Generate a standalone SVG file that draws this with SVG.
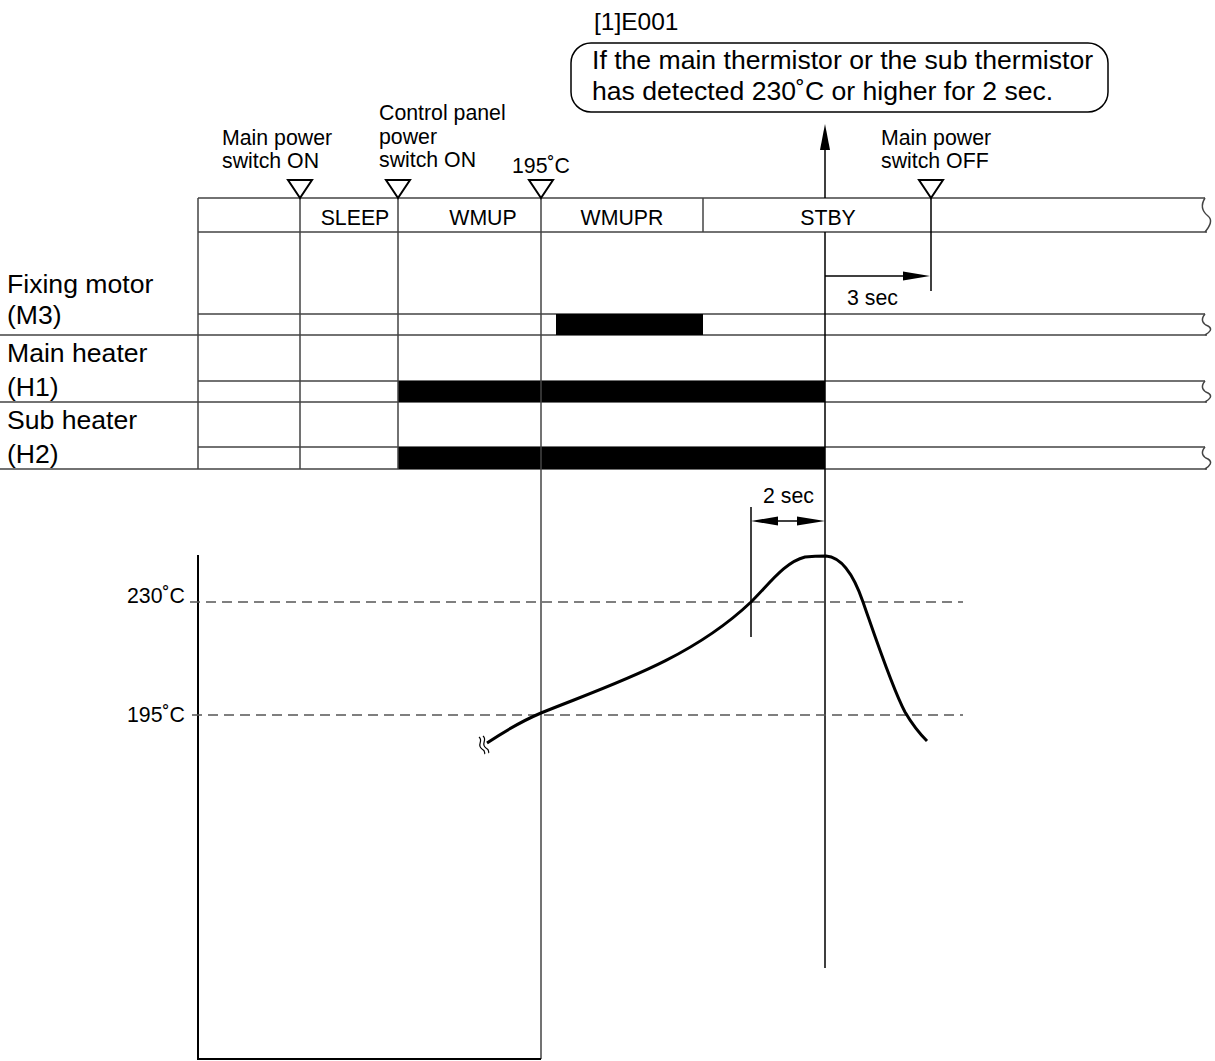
<svg xmlns="http://www.w3.org/2000/svg" width="1215" height="1061" viewBox="0 0 1215 1061">
<style>
text{font-family:"Liberation Sans",Arial,sans-serif;fill:#000}
.s{font-size:21.3px}
.l{font-size:26.6px}
.g{stroke:#444;stroke-width:1.5;fill:none}
.k{stroke:#000;stroke-width:1.5;fill:none}
.tri{fill:#fff;stroke:#000;stroke-width:2}
.bar{fill:#000}
.dash{stroke:#555;stroke-width:1.5;stroke-dasharray:10 6;fill:none}
.ah{fill:#000}
</style>
<rect width="1215" height="1061" fill="#fff"/>

<g id="callout">
<text x="594" y="30" style="font-size:24.5px">[1]E001</text>
<rect x="571" y="43" width="537" height="69" rx="20" ry="20" fill="#fff" stroke="#000" stroke-width="1.5"/>
<text class="l" x="592" y="69">If the main thermistor or the sub thermistor</text>
<text class="l" x="592" y="100">has detected 230˚C or higher for 2 sec.</text>
</g>

<g id="event-labels">
<text class="s" x="222" y="145">Main power</text>
<text class="s" x="222" y="168">switch ON</text>
<text class="s" x="379" y="120">Control panel</text>
<text class="s" x="379" y="144">power</text>
<text class="s" x="379" y="167">switch ON</text>
<text class="s" x="512" y="173">195˚C</text>
<text class="s" x="881" y="145">Main power</text>
<text class="s" x="881" y="168">switch OFF</text>
</g>

<g id="state-band">
<path class="g" d="M198,198 H1205 M198,232 H1207 M198,198 V232"/>
<path class="g" d="M1205,198 C1200,206 1203,212 1208,216 C1213,220 1210,226 1205,232"/>
<path class="g" d="M703,198 V232"/>
<text class="s" x="355" y="225" text-anchor="middle">SLEEP</text>
<text class="s" x="483" y="225" text-anchor="middle">WMUP</text>
<text class="s" x="622" y="225" text-anchor="middle">WMUPR</text>
<text class="s" x="828" y="225" text-anchor="middle">STBY</text>
</g>

<g id="row-labels">
<text class="l" x="7" y="293">Fixing motor</text>
<text class="l" x="7" y="324">(M3)</text>
<text class="l" x="7" y="362">Main heater</text>
<text class="l" x="7" y="396">(H1)</text>
<text class="l" x="7" y="429">Sub heater</text>
<text class="l" x="7" y="463">(H2)</text>
</g>

<g id="signal-rows">
<path class="g" d="M198,232 V469"/>
<path class="g" d="M198,314 H1205 M0,335 H1207"/>
<path class="g" d="M1205,314 C1200,320 1203,324 1208,326 C1213,329 1210,332 1205,335"/>
<path class="g" d="M198,381 H1205 M0,402 H1207"/>
<path class="g" d="M1205,381 C1200,387 1203,391 1208,393 C1213,396 1210,399 1205,402"/>
<path class="g" d="M198,447 H1205 M0,469 H1207"/>
<path class="g" d="M1205,447 C1200,453 1203,457 1208,459 C1213,462 1210,466 1205,469"/>
<rect class="bar" x="556" y="314" width="147" height="21"/>
<rect class="bar" x="398" y="381" width="427" height="21"/>
<rect class="bar" x="398" y="447" width="427" height="22"/>
</g>

<g id="connectors">
<path class="g" d="M300,198 V469 M398,198 V469"/>
<path class="g" d="M541,198 V1059"/>
<path class="k" d="M825,146 V198 M825,232 V968"/>
<polygon class="ah" points="825,124 820,150 830,150"/>
<path class="k" d="M931,198 V291"/>
<path class="k" d="M825,276 H905"/>
<polygon class="ah" points="930,276 903,271.5 903,280.5"/>
<text class="s" x="847" y="305">3 sec</text>
<polygon class="tri" points="288,180 312,180 300,198"/>
<polygon class="tri" points="386,180 410,180 398,198"/>
<polygon class="tri" points="529,180 553,180 541,198"/>
<polygon class="tri" points="919,180 943,180 931,198"/>
</g>

<g id="graph">
<path stroke="#000" stroke-width="2" fill="none" d="M198,555 V1059 H541"/>
<path class="dash" d="M190,602 H963"/>
<path class="dash" d="M192,715 H963"/>
<text class="s" x="185" y="603" text-anchor="end">230˚C</text>
<text class="s" x="185" y="722" text-anchor="end">195˚C</text>
<path stroke="#000" stroke-width="3" fill="none" d="M487,743 C505,731 522,721 541,713 C610,685 690,660 751,602 C770,583 785,562 805,557 C815,556 820,556 826,556 C840,557 852,570 863,602 C878,645 893,690 905,712 C912,724 918,732 927,741"/>
<path stroke="#000" stroke-width="1.2" fill="none" d="M479,737 C484,741 476,745 482,749 C486,751 484,753 485,754 M483,736 C488,740 480,744 486,748 C490,750 488,752 489,753"/>
<path class="k" d="M751,507 V637"/>
<path class="k" d="M775,521 H800"/>
<polygon class="ah" points="751,521 778,516.5 778,525.5"/>
<polygon class="ah" points="825,521 797,516.5 797,525.5"/>
<text class="s" x="763" y="503">2 sec</text>
</g>
</svg>
